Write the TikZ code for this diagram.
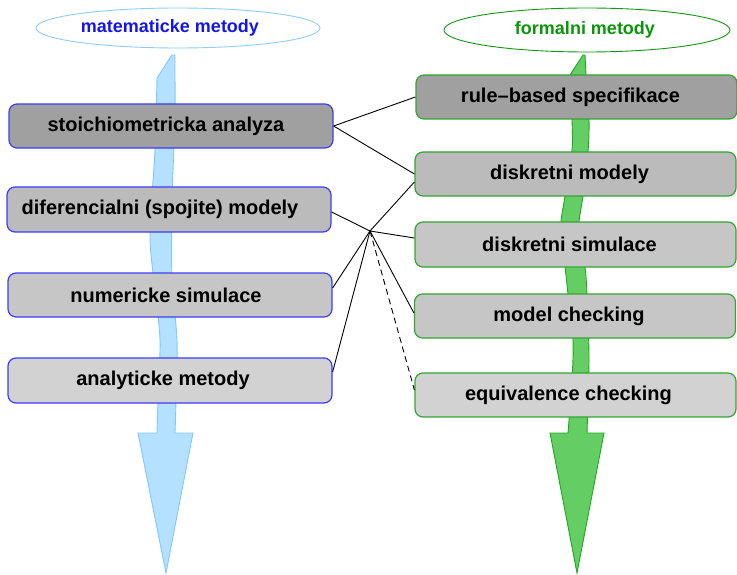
\documentclass[tikz,border=0pt]{standalone}
\usepackage{fontspec}
\setmainfont{Liberation Sans}
\usetikzlibrary{shapes.geometric}
\definecolor{lbord}{RGB}{60,60,250}
\definecolor{gbord}{RGB}{50,165,50}
\definecolor{gA}{RGB}{160,160,160}
\definecolor{gB}{RGB}{187,187,187}
\definecolor{gC}{RGB}{198,198,198}
\definecolor{gD}{RGB}{210,210,210}
\definecolor{bafill}{RGB}{180,225,255}
\definecolor{badraw}{RGB}{130,200,250}
\definecolor{gafill}{RGB}{100,205,100}
\definecolor{gadraw}{RGB}{30,170,30}
\definecolor{lellb}{RGB}{140,205,250}
\definecolor{lellt}{RGB}{20,20,240}
\definecolor{rellb}{RGB}{20,150,20}
\definecolor{rellt}{RGB}{10,150,10}
\begin{document}
\begin{tikzpicture}[x=1pt,y=-1pt,
  box/.style={draw, rounded corners=8pt, minimum height=44pt, inner sep=0pt,
    line width=1.2pt, font=\bfseries\fontsize{20}{24}\selectfont},
  lbox/.style={box, draw=lbord, minimum width=324pt},
  rbox/.style={box, draw=gbord, minimum width=321pt},
  ell/.style={ellipse, draw, fill=white, inner sep=0pt, line width=0.9pt,
    font=\bfseries\fontsize{18}{22}\selectfont},
  link/.style={draw=black, line width=0.9pt},
  dlink/.style={link, dash pattern=on 6pt off 4pt},
  bigblue/.style={fill=bafill, draw=badraw, line width=0.9pt},
  biggreen/.style={fill=gafill, draw=gadraw, line width=0.9pt}]
\useasboundingbox (0,0) rectangle (737,575);
% big arrows
\filldraw[bigblue] (172,55) -- plot[smooth] coordinates {(157,78) (155,150) (150,235) (155,290) (160,340) (158,400) (157,433)}
  -- (138,433) -- (166,573) -- (193,433)
  -- plot[smooth] coordinates {(175,433) (176,400) (177,340) (172,280) (172,200) (175,120) (175,78)} -- (175,55) -- cycle;
\filldraw[biggreen] (583,55) -- plot[smooth] coordinates {(570,75) (572,120) (572,150) (565,196) (561,222) (562,245) (565,267) (568,294) (573,340) (572,380) (568,433)}
  -- (550,433) -- (577,573) -- (604,433)
  -- plot[smooth] coordinates {(587,433) (588,400) (589,355) (587,294) (585,267) (580,240) (579,222) (583,196) (588,152) (589,119) (586,75)} -- (585,55) -- cycle;
% ellipses
\node[ell, draw=lellb, text=lellt, minimum width=284pt, minimum height=40pt] (mat) at (178,28) {matematicke metody\kern16pt};
\node[ell, draw=rellb, text=rellt, minimum width=286pt, minimum height=44pt] (form) at (587,30) {formalni metody\kern4pt};
% left boxes
\node[lbox, fill=gA] (sto) at (171,126) {stoichiometricka analyza\kern10pt};
\node[lbox, fill=gB, minimum height=45pt] (dif) at (169,209.5) {diferencialni (spojite) modely\kern18pt};
\node[lbox, fill=gC] (num) at (170,295) {numericke simulace\kern8pt};
\node[lbox, fill=gD, minimum height=45pt] (ana) at (170,380.5) {analyticke metody\kern14pt};
% right boxes
\node[rbox, fill=gA] (rule) at (576.5,97) {rule--based specifikace\kern12pt};
\node[rbox, fill=gB] (dm) at (575.5,174) {diskretni modely\kern12pt};
\node[rbox, fill=gC, minimum height=45pt] (ds) at (575.5,244.5) {diskretni simulace\kern12pt};
\node[rbox, fill=gC] (mc) at (575,316) {model checking\kern12pt};
\node[rbox, fill=gD] (eq) at (575.5,395) {equivalence checking\kern14pt};
% connectors
\coordinate (J) at (370,231);
\draw[link] (sto.east) -- (rule.west);
\draw[link] (sto.east) -- (dm.west);
\draw[link] ([yshift=-2.5pt]dif.east) -- (J);
\draw[link] (J) -- ([yshift=-8pt]dm.west);
\draw[link] (J) -- ([yshift=6.5pt]ds.west);
\draw[link] (J) -- ([yshift=7pt]num.east);
\draw[link] (J) -- ([yshift=8.5pt]ana.east);
\draw[link] (J) -- ([yshift=3pt]mc.west);
\draw[dlink] (J) -- ([yshift=5pt]eq.west);
\end{tikzpicture}
\end{document}
